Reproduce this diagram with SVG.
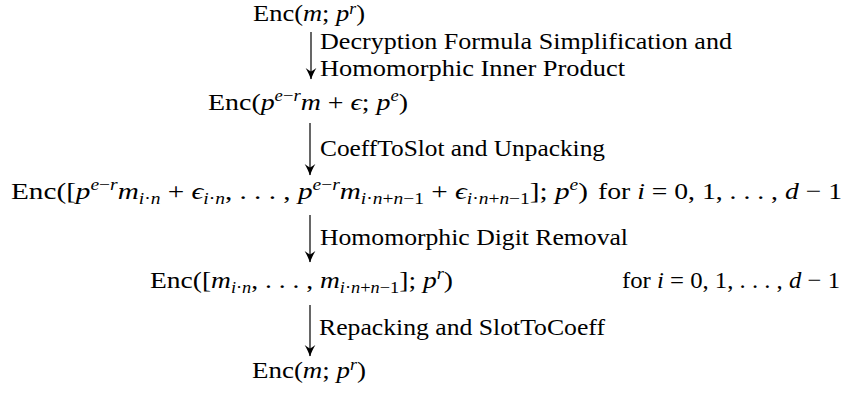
<svg xmlns="http://www.w3.org/2000/svg" width="849" height="396" viewBox="0 0 849 396">
<style>
text { font-family: "Liberation Serif", serif; font-size: 24px; fill: #000; }
.i { font-style: italic; }
.s { font-size: 16px; }
.conn line { stroke: #000; stroke-width: 1.2; fill: none; }
</style>
<defs>
<marker id="ah" viewBox="-12 -6 13 12" refX="0" refY="0" markerWidth="13" markerHeight="12" markerUnits="userSpaceOnUse" orient="auto">
<path d="M0.6,0 C-3,-1.2 -7.5,-3.2 -11,-5.4 C-9,-2.8 -8,-1.2 -7.4,0 C-8,1.2 -9,2.8 -11,5.4 C-7.5,3.2 -3,1.2 0.6,0 Z" fill="#000"/>
</marker>
</defs>
<rect width="849" height="396" fill="#fff"/>

<g id="n1">
<text x="253" y="21" textLength="112" lengthAdjust="spacingAndGlyphs">Enc(<tspan class="i">m</tspan>; <tspan class="i">p</tspan><tspan class="i s" y="14">r</tspan><tspan y="21">)</tspan></text>
</g>

<g id="n2">
<text x="208" y="110" textLength="200" lengthAdjust="spacingAndGlyphs">Enc(<tspan class="i">p</tspan><tspan class="s" y="101"><tspan class="i">e</tspan>−<tspan class="i">r</tspan></tspan><tspan class="i" y="110">m</tspan> + <tspan class="i">ϵ</tspan>; <tspan class="i">p</tspan><tspan class="i s" y="101">e</tspan><tspan y="110">)</tspan></text>
</g>

<g id="n3">
<text x="11" y="199" textLength="577" lengthAdjust="spacingAndGlyphs">Enc([<tspan class="i">p</tspan><tspan class="s" y="190"><tspan class="i">e</tspan>−<tspan class="i">r</tspan></tspan><tspan class="i" y="199">m</tspan><tspan class="s" y="204"><tspan class="i">i</tspan>·<tspan class="i">n</tspan></tspan><tspan y="199"> + </tspan><tspan class="i">ϵ</tspan><tspan class="s" y="204"><tspan class="i">i</tspan>·<tspan class="i">n</tspan></tspan><tspan y="199">, . . . , </tspan><tspan class="i">p</tspan><tspan class="s" y="190"><tspan class="i">e</tspan>−<tspan class="i">r</tspan></tspan><tspan class="i" y="199">m</tspan><tspan class="s" y="204"><tspan class="i">i</tspan>·<tspan class="i">n</tspan>+<tspan class="i">n</tspan>−1</tspan><tspan y="199"> + </tspan><tspan class="i">ϵ</tspan><tspan class="s" y="204"><tspan class="i">i</tspan>·<tspan class="i">n</tspan>+<tspan class="i">n</tspan>−1</tspan><tspan y="199">]; </tspan><tspan class="i">p</tspan><tspan class="i s" y="190">e</tspan><tspan y="199">)</tspan></text>
<text x="598" y="199" textLength="244" lengthAdjust="spacingAndGlyphs">for <tspan class="i">i</tspan> = 0, 1, . . . , <tspan class="i">d</tspan> − 1</text>
</g>

<g id="n4">
<text x="150" y="288" textLength="303" lengthAdjust="spacingAndGlyphs">Enc([<tspan class="i">m</tspan><tspan class="s" y="293"><tspan class="i">i</tspan>·<tspan class="i">n</tspan></tspan><tspan y="288">, . . . , </tspan><tspan class="i">m</tspan><tspan class="s" y="293"><tspan class="i">i</tspan>·<tspan class="i">n</tspan>+<tspan class="i">n</tspan>−1</tspan><tspan y="288">]; </tspan><tspan class="i">p</tspan><tspan class="i s" y="279">r</tspan><tspan y="288">)</tspan></text>
<text x="622" y="288" textLength="218" lengthAdjust="spacingAndGlyphs">for <tspan class="i">i</tspan> = 0, 1, . . . , <tspan class="i">d</tspan> − 1</text>
</g>

<g id="n5">
<text x="252" y="378" textLength="114" lengthAdjust="spacingAndGlyphs">Enc(<tspan class="i">m</tspan>; <tspan class="i">p</tspan><tspan class="i s" y="370">r</tspan><tspan y="378">)</tspan></text>
</g>

<g id="connectors" class="conn">
<line x1="311" y1="32" x2="311" y2="79" marker-end="url(#ah)"/>
<line x1="310" y1="123" x2="310" y2="175" marker-end="url(#ah)"/>
<line x1="310" y1="215" x2="310" y2="262" marker-end="url(#ah)"/>
<line x1="310" y1="305" x2="310" y2="356" marker-end="url(#ah)"/>
</g>

<g id="labels">
<text x="320" y="49" textLength="412" lengthAdjust="spacingAndGlyphs">Decryption Formula Simplification and</text>
<text x="320" y="76" textLength="305" lengthAdjust="spacingAndGlyphs">Homomorphic Inner Product</text>
<text x="320" y="156" textLength="285" lengthAdjust="spacingAndGlyphs">CoeffToSlot and Unpacking</text>
<text x="320" y="245" textLength="308" lengthAdjust="spacingAndGlyphs">Homomorphic Digit Removal</text>
<text x="319" y="335" textLength="286" lengthAdjust="spacingAndGlyphs">Repacking and SlotToCoeff</text>
</g>
</svg>
